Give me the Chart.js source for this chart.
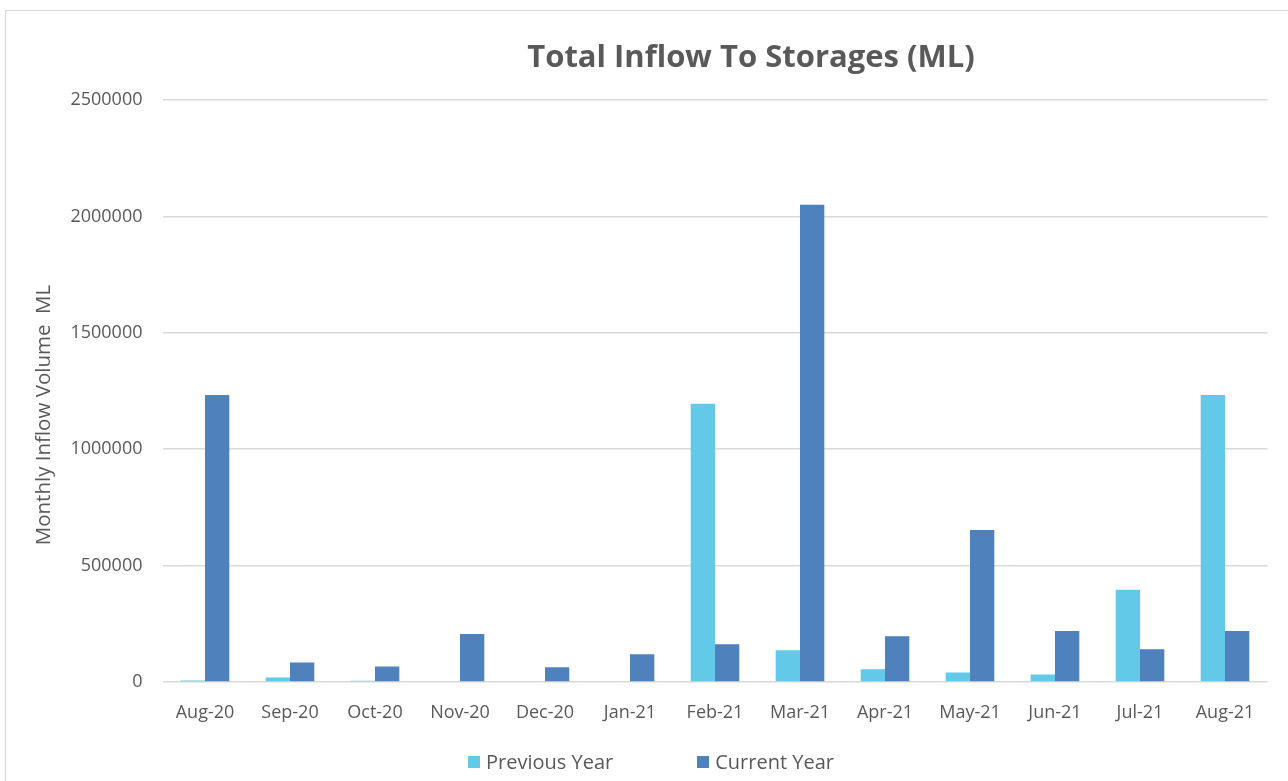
<!DOCTYPE html>
<html>
<head>
<meta charset="utf-8">
<script src="https://cdn.jsdelivr.net/npm/chart.js@4.4.1/dist/chart.umd.min.js"></script>
<style>
  html, body { margin: 0; padding: 0; background: #ffffff; overflow: hidden; width: 1288px; height: 781px; }
  #frame { position: absolute; left: 5px; top: 10px; width: 1400px; height: 900px; border: 1px solid #d9d9d9; box-sizing: border-box; }
  #wrap { position: absolute; left: 0; top: 0; width: 1288px; height: 781px; }
  #title { position: absolute; left: 0; top: 40px; width: 1502px; text-align: center; font-family: "Open Sans", sans-serif; font-weight: 700; font-size: 31px; line-height: 30px; color: #595959; white-space: nowrap; }
  #ytitle { position: absolute; left: -158px; top: 403px; width: 400px; height: 24px; line-height: 24px; text-align: center; transform: rotate(-90deg); font-family: "Open Sans", sans-serif; font-size: 20.5px; color: #595959; white-space: pre; }
  #legend { position: absolute; left: 0; top: 752px; width: 1302px; height: 20px; display: flex; justify-content: center; align-items: center; font-family: "Open Sans", sans-serif; font-size: 20px; line-height: 20px; color: #595959; }
  .item { display: flex; align-items: center; white-space: nowrap; }
  .item + .item { margin-left: 84px; }
  .box { width: 12px; height: 12px; margin-right: 6px; }
</style>
</head>
<body>
<div id="frame"></div>
<div id="wrap"><canvas id="c" width="1288" height="781"></canvas></div>
<div id="title"></div>
<div id="ytitle"></div>
<div id="legend"></div>
<script>
const chartTitle = "Total Inflow To Storages (ML)";
const yAxisTitle = "Monthly Inflow Volume  ML";
const categories = ["Aug-20","Sep-20","Oct-20","Nov-20","Dec-20","Jan-21","Feb-21","Mar-21","Apr-21","May-21","Jun-21","Jul-21","Aug-21"];
const seriesNames = ["Previous Year", "Current Year"];
const previousYear = [6000, 19000, 5000, 0, 0, 0, 1195000, 136000, 55000, 41000, 32000, 396000, 1233000];
const currentYear = [1233000, 84000, 67000, 206000, 63000, 119000, 162000, 2050000, 197000, 653000, 219000, 141000, 219000];
const yTicks = [0, 500000, 1000000, 1500000, 2000000, 2500000];
const seriesColors = ["#62CAE8", "#4F81BD"];

document.getElementById("title").textContent = chartTitle;
document.getElementById("ytitle").textContent = yAxisTitle;

const tickFont = { family: "Open Sans", size: 18 };

const chart = new Chart(document.getElementById("c"), {
  type: "bar",
  data: {
    labels: categories,
    datasets: [
      { label: seriesNames[0], data: previousYear, backgroundColor: seriesColors[0], borderWidth: 0, categoryPercentage: 0.572, barPercentage: 1.0 },
      { label: seriesNames[1], data: currentYear, backgroundColor: seriesColors[1], borderWidth: 0, categoryPercentage: 0.572, barPercentage: 1.0 }
    ]
  },
  options: {
    responsive: false,
    animation: false,
    devicePixelRatio: 1,
    layout: { padding: { top: 100, right: 20.5, bottom: 0, left: 0 } },
    plugins: {
      legend: { display: false },
      title: { display: false },
      tooltip: { enabled: false }
    },
    scales: {
      x: {
        grid: { display: false },
        border: { display: false },
        ticks: { color: "#595959", font: tickFont, padding: 12, maxRotation: 0, autoSkip: false },
        afterFit: (s) => { s.height = 99; }
      },
      y: {
        min: yTicks[0],
        max: yTicks[yTicks.length - 1],
        afterBuildTicks: (s) => { s.ticks = yTicks.map(v => ({ value: v })); },
        grid: { color: "#d9d9d9", lineWidth: 1.5, drawTicks: false },
        border: { display: false },
        ticks: { color: "#595959", font: tickFont, padding: 20, callback: (v) => String(v) },
        afterFit: (s) => { s.width = 162.5; }
      }
    }
  }
});

const legendEl = document.getElementById("legend");
chart.data.datasets.forEach((ds) => {
  const item = document.createElement("div");
  item.className = "item";
  const box = document.createElement("span");
  box.className = "box";
  box.style.background = ds.backgroundColor;
  const txt = document.createElement("span");
  txt.textContent = ds.label;
  item.appendChild(box);
  item.appendChild(txt);
  legendEl.appendChild(item);
});
</script>
</body>
</html>
